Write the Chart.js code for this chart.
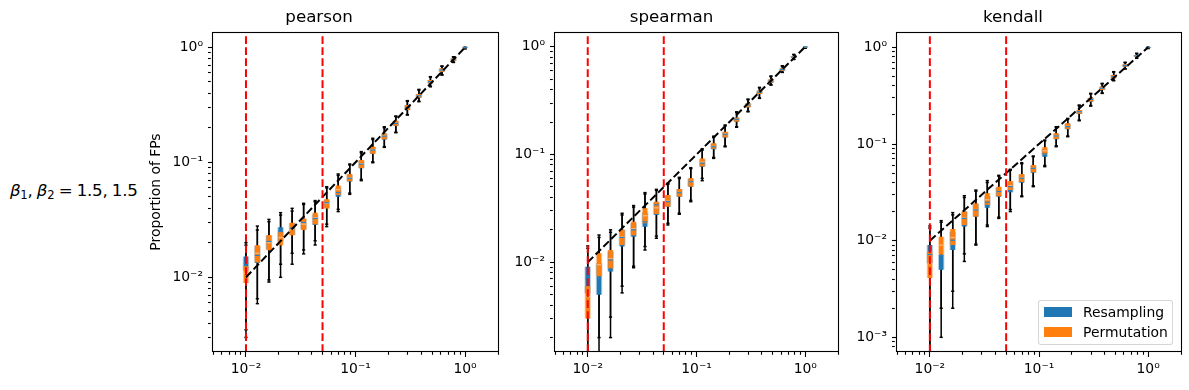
<!DOCTYPE html>
<html>
<head>
<meta charset="utf-8">
<script src="https://cdn.jsdelivr.net/npm/chart.js@4.4.0/dist/chart.umd.min.js"></script>
<style>
  html, body { margin: 0; padding: 0; background: #fff; overflow: hidden; }
  #wrap { position: relative; width: 1189px; height: 390px; overflow: hidden; font-family: 'DejaVu Sans', sans-serif; color: #000; }
  #wrap canvas { position: absolute; top: 0; }
  #rowLabel { position: absolute; left: 10px; top: 180px; font-size: 16.7px; line-height: 20px; white-space: nowrap; letter-spacing: -0.3px; word-spacing: -0.6px; }
  #rowLabel sub { font-size: 11.6px; line-height: 0; vertical-align: -3px; }
  #legend { position: absolute; left: 1038px; top: 300px; width: 133px; height: 43px; border: 1px solid rgba(204,204,204,0.8); border-radius: 3px; background: rgba(255,255,255,0.8); font-size: 13.9px; }
  #legend .item { position: absolute; left: 5px; height: 20px; line-height: 20px; padding-left: 39px; white-space: nowrap; }
  #legend .sw { position: absolute; left: 0; top: 5px; width: 28px; height: 10px; }
</style>
</head>
<body>
<div id="wrap">
  <div id="rowLabel"><i>β</i><sub>1</sub>, <i>β</i><sub>2</sub> = 1.5, 1.5</div>
  <canvas id="pearsonChart" width="431" height="390" style="left:140px"></canvas>
  <canvas id="spearmanChart" width="383" height="390" style="left:505px"></canvas>
  <canvas id="kendallChart" width="388" height="390" style="left:845px"></canvas>
  <div id="legend">
    <div class="item" style="top:1px"><span class="sw" style="background:#1f77b4"></span>Resampling</div>
    <div class="item" style="top:21px"><span class="sw" style="background:#ff7f0e"></span>Permutation</div>
  </div>
</div>
<script>
// 0. データ
// 横軸 (名目上の有意水準)。20点。
const xValues = [0.01, 0.0127, 0.0162, 0.0207, 0.0264, 0.0336, 0.0428, 0.0546, 0.0695, 0.0886,
  0.1129, 0.1438, 0.1833, 0.2336, 0.2976, 0.3793, 0.4833, 0.6158, 0.7848, 1.0];
// 赤い縦線の位置
const refLines = [0.01, 0.05];
// 各点の [下ひげ, 第1四分位, 中央値, 第3四分位, 上ひげ]
const pearsonResampling = [
  [0.0030, 0.0115, 0.0132, 0.0152, 0.0200],
  [0.0059, 0.0133, 0.0155, 0.0185, 0.0258],
  [0.0091, 0.0175, 0.0205, 0.0230, 0.0319],
  [0.0100, 0.0205, 0.0250, 0.0272, 0.0365],
  [0.0130, 0.0235, 0.0268, 0.0295, 0.0398],
  [0.0160, 0.0262, 0.0300, 0.0322, 0.0440],
  [0.0191, 0.0285, 0.0325, 0.0350, 0.0465],
  [0.0276, 0.0400, 0.0445, 0.0470, 0.0614],
  [0.0373, 0.0503, 0.0546, 0.0600, 0.0792],
  [0.0527, 0.0680, 0.0727, 0.0780, 0.0968],
  [0.0693, 0.0890, 0.0963, 0.1030, 0.124],
  [0.0993, 0.119, 0.128, 0.136, 0.162],
  [0.135, 0.158, 0.169, 0.177, 0.204],
  [0.181, 0.207, 0.218, 0.229, 0.253],
  [0.258, 0.285, 0.301, 0.314, 0.344],
  [0.337, 0.365, 0.380, 0.392, 0.431],
  [0.455, 0.486, 0.503, 0.519, 0.556],
  [0.575, 0.614, 0.635, 0.655, 0.688],
  [0.740, 0.766, 0.785, 0.801, 0.829],
  [0.974, 0.987, 0.995, 1.0, 1.0]
];
const pearsonPermutation = [
  [0.0035, 0.0089, 0.0108, 0.0125, 0.0190],
  [0.0065, 0.0135, 0.0162, 0.0190, 0.0279],
  [0.0095, 0.0172, 0.0200, 0.0233, 0.0305],
  [0.0130, 0.0190, 0.0222, 0.0249, 0.0348],
  [0.0162, 0.0232, 0.0262, 0.0298, 0.0377],
  [0.0173, 0.0258, 0.0290, 0.0325, 0.0430],
  [0.0208, 0.0290, 0.0330, 0.0365, 0.0455],
  [0.0290, 0.0397, 0.0440, 0.0477, 0.0600],
  [0.0390, 0.0520, 0.0580, 0.0630, 0.0770],
  [0.0540, 0.0685, 0.0735, 0.0792, 0.0950],
  [0.0710, 0.0895, 0.0970, 0.1050, 0.121],
  [0.101, 0.119, 0.129, 0.137, 0.158],
  [0.137, 0.159, 0.170, 0.178, 0.200],
  [0.183, 0.208, 0.219, 0.230, 0.250],
  [0.260, 0.286, 0.300, 0.315, 0.340],
  [0.340, 0.366, 0.380, 0.393, 0.425],
  [0.458, 0.487, 0.503, 0.520, 0.552],
  [0.578, 0.615, 0.636, 0.656, 0.685],
  [0.742, 0.767, 0.785, 0.802, 0.826],
  [0.974, 0.987, 0.995, 1.0, 1.0]
];
const spearmanResampling = [
  [0.0010, 0.00516, 0.0071, 0.0091, 0.0142],
  [0.0010, 0.0050, 0.0071, 0.0098, 0.0179],
  [0.0020, 0.0082, 0.0105, 0.0126, 0.0200],
  [0.0052, 0.0140, 0.0170, 0.0200, 0.0285],
  [0.0089, 0.0173, 0.0200, 0.0230, 0.0336],
  [0.0130, 0.0214, 0.0237, 0.0290, 0.0443],
  [0.0167, 0.0275, 0.0342, 0.0360, 0.0475],
  [0.0222, 0.0328, 0.0365, 0.0415, 0.0540],
  [0.0279, 0.0406, 0.0442, 0.0475, 0.0614],
  [0.0365, 0.0503, 0.0559, 0.0595, 0.0755],
  [0.0572, 0.0771, 0.0830, 0.0900, 0.113],
  [0.0921, 0.112, 0.118, 0.126, 0.148],
  [0.118, 0.144, 0.154, 0.162, 0.188],
  [0.179, 0.201, 0.212, 0.219, 0.249],
  [0.249, 0.274, 0.288, 0.297, 0.327],
  [0.332, 0.364, 0.378, 0.390, 0.420],
  [0.441, 0.464, 0.481, 0.497, 0.535],
  [0.578, 0.599, 0.615, 0.629, 0.666],
  [0.763, 0.785, 0.802, 0.819, 0.849],
  [0.972, 0.990, 0.995, 1.0, 1.0]
];
const spearmanPermutation = [
  [0.0010, 0.0030, 0.0048, 0.0060, 0.0135],
  [0.0020, 0.0074, 0.0095, 0.0121, 0.0170],
  [0.0031, 0.0088, 0.0108, 0.0130, 0.0190],
  [0.0060, 0.0145, 0.0172, 0.0200, 0.0275],
  [0.0092, 0.0178, 0.0205, 0.0238, 0.0325],
  [0.0140, 0.0230, 0.0270, 0.0317, 0.0430],
  [0.0175, 0.0280, 0.0320, 0.0365, 0.0465],
  [0.0230, 0.0330, 0.0370, 0.0421, 0.0530],
  [0.0285, 0.0408, 0.0445, 0.0479, 0.0600],
  [0.0375, 0.0505, 0.0560, 0.0601, 0.0740],
  [0.0600, 0.0780, 0.0850, 0.0921, 0.110],
  [0.094, 0.113, 0.119, 0.127, 0.145],
  [0.120, 0.145, 0.155, 0.163, 0.185],
  [0.181, 0.202, 0.212, 0.220, 0.245],
  [0.252, 0.275, 0.288, 0.298, 0.323],
  [0.335, 0.365, 0.378, 0.391, 0.416],
  [0.445, 0.465, 0.482, 0.498, 0.530],
  [0.580, 0.600, 0.616, 0.630, 0.662],
  [0.765, 0.786, 0.802, 0.820, 0.845],
  [0.972, 0.990, 0.995, 1.0, 1.0]
];
const kendallResampling = [
  [0.0005, 0.0058, 0.0072, 0.0090, 0.0142],
  [0.0010, 0.0050, 0.0070, 0.0072, 0.0161],
  [0.0020, 0.0080, 0.0101, 0.0124, 0.0195],
  [0.0061, 0.0140, 0.0170, 0.0200, 0.0292],
  [0.0090, 0.0177, 0.0208, 0.0240, 0.0334],
  [0.0140, 0.0219, 0.0250, 0.0290, 0.0418],
  [0.0170, 0.0285, 0.0322, 0.0355, 0.0474],
  [0.0200, 0.0316, 0.0362, 0.0400, 0.0547],
  [0.0285, 0.0398, 0.0442, 0.0480, 0.0641],
  [0.0362, 0.0505, 0.0560, 0.0600, 0.0751],
  [0.0583, 0.0740, 0.0790, 0.0880, 0.110],
  [0.0938, 0.112, 0.121, 0.128, 0.151],
  [0.119, 0.142, 0.151, 0.162, 0.184],
  [0.174, 0.204, 0.216, 0.224, 0.253],
  [0.247, 0.274, 0.289, 0.300, 0.334],
  [0.334, 0.362, 0.377, 0.391, 0.424],
  [0.452, 0.478, 0.497, 0.517, 0.560],
  [0.597, 0.631, 0.649, 0.666, 0.700],
  [0.770, 0.801, 0.817, 0.832, 0.867],
  [0.975, 0.990, 0.995, 1.0, 1.0]
];
const kendallPermutation = [
  [0.0005, 0.0041, 0.0058, 0.0077, 0.0135],
  [0.0020, 0.0072, 0.0090, 0.0110, 0.0155],
  [0.0030, 0.0090, 0.0108, 0.0132, 0.0185],
  [0.0073, 0.0145, 0.0172, 0.0200, 0.0280],
  [0.0092, 0.0178, 0.0210, 0.0243, 0.0325],
  [0.0145, 0.0235, 0.0265, 0.0309, 0.0400],
  [0.0175, 0.0288, 0.0322, 0.0362, 0.0465],
  [0.0210, 0.0335, 0.0370, 0.0414, 0.0535],
  [0.0290, 0.0405, 0.0445, 0.0489, 0.0625],
  [0.0370, 0.0510, 0.0560, 0.0607, 0.0740],
  [0.0600, 0.0780, 0.0850, 0.0924, 0.108],
  [0.096, 0.113, 0.121, 0.129, 0.148],
  [0.121, 0.143, 0.152, 0.164, 0.181],
  [0.177, 0.205, 0.216, 0.225, 0.249],
  [0.250, 0.275, 0.289, 0.301, 0.330],
  [0.337, 0.363, 0.377, 0.392, 0.420],
  [0.455, 0.479, 0.498, 0.518, 0.555],
  [0.600, 0.632, 0.650, 0.667, 0.695],
  [0.773, 0.802, 0.818, 0.833, 0.862],
  [0.975, 0.990, 0.995, 1.0, 1.0]
];
// 軸の範囲
const xRange = [0.005, 2.0];
const pearsonYRange = [0.00224, 1.36];
const spearmanYRange = [0.00147, 1.37];
const kendallYRange = [0.000705, 1.44];

// 1. 共通設定
Chart.defaults.font.family = "'DejaVu Sans', sans-serif";
Chart.defaults.color = '#000';

const BLUE = '#1f77b4';
const ORANGE = '#ff7f0e';

let supMap = {'-': '⁻', '0': '⁰', '1': '¹', '2': '²', '3': '³', '4': '⁴', '5': '⁵', '6': '⁶', '7': '⁷', '8': '⁸', '9': '⁹'};
let powLabel = function(v) {
  let e = Math.round(Math.log10(v));
  return '10' + String(e).split('').map(c => supMap[c]).join('');
};
// 対数軸の目盛り(1〜9 × 10^n)。10^n だけ major。
let logTicks = function(min, max) {
  let ticks = [];
  for (let e = Math.floor(Math.log10(min)); e <= Math.ceil(Math.log10(max)); e++) {
    for (let m = 1; m <= 9; m++) {
      let v = m * Math.pow(10, e);
      if (v >= min * 0.9999 && v <= max * 1.0001) ticks.push({value: v, major: m === 1});
    }
  }
  return ticks;
};

// 外枠を描くプラグイン
let framePlugin = {
  id: 'frame',
  afterDatasetsDraw(chart) {
    let a = chart.chartArea;
    let c = chart.ctx;
    c.save();
    c.strokeStyle = '#000';
    c.lineWidth = 1.1;
    c.strokeRect(Math.round(a.left) - 0.5, Math.round(a.top) + 0.5, Math.round(a.right - a.left) + 1, Math.round(a.bottom - a.top) - 1);
    c.restore();
  }
};

// 2. データセットを作る関数
// 縦の線分(ひげ、箱)。null で区切る。
let segPoints = function(stats, a, b) {
  let pts = [];
  for (let i = 0; i < xValues.length; i++) {
    pts.push({x: xValues[i], y: stats[i][a]});
    pts.push({x: xValues[i], y: stats[i][b]});
    pts.push({x: xValues[i], y: null});
  }
  return pts;
};
let statPoints = function(stats, idxs) {
  let pts = [];
  for (let i = 0; i < xValues.length; i++) {
    for (let j = 0; j < idxs.length; j++) pts.push({x: xValues[i], y: stats[i][idxs[j]]});
  }
  return pts;
};
let lineSet = function(data, color, width, order, dash) {
  return {
    type: 'line', data: data, borderColor: color, backgroundColor: color,
    borderWidth: width, borderDash: dash || [], borderCapStyle: 'butt',
    pointRadius: 0, pointHoverRadius: 0, fill: false, tension: 0,
    spanGaps: false, order: order
  };
};
let pointSet = function(data, color, radius, width, order) {
  return {
    type: 'line', data: data, showLine: false, pointStyle: 'line',
    pointRadius: radius, pointHoverRadius: radius, pointBorderColor: color,
    pointBackgroundColor: color, pointBorderWidth: width, order: order
  };
};

// 3. パネルを作る関数
let makePanel = function(id, title, res, perm, yRange, yWidth, yTitle) {
  let dash = [7.7, 3.3];
  let datasets = [];
  for (let i = 0; i < refLines.length; i++) {
    datasets.push(lineSet([{x: refLines[i], y: yRange[0]}, {x: refLines[i], y: yRange[1]}], '#ff0000', 2, 0, dash));
  }
  datasets.push(lineSet([{x: 0.01, y: 0.01}, {x: 1, y: 1}], '#000', 2, 1, dash));
  datasets.push(pointSet(statPoints(res, [2]), '#2a82c4', 2.3, 1.2, 2));
  datasets.push(pointSet(statPoints(perm, [2]), '#f6b880', 2.3, 1.2, 3));
  datasets.push(lineSet(segPoints(perm, 1, 3), ORANGE, 4.5, 4));
  datasets.push(lineSet(segPoints(perm, 1, 3), 'rgba(255,127,14,0.3)', 6.5, 5));
  datasets.push(lineSet(segPoints(res, 1, 3), BLUE, 4.5, 6));
  datasets.push(lineSet(segPoints(res, 1, 3), 'rgba(31,119,180,0.3)', 6.5, 7));
  datasets.push(pointSet(statPoints(res, [0, 4]), '#000', 1.6, 1.5, 8));
  datasets.push(pointSet(statPoints(perm, [0, 4]), '#000', 1.6, 1.5, 8));
  datasets.push(lineSet(segPoints(res, 0, 4), '#000', 1.5, 9));
  datasets.push(lineSet(segPoints(perm, 0, 4), '#000', 1.5, 9));

  let tickGrid = {
    display: true, drawOnChartArea: false, drawTicks: true, tickLength: 5,
    tickColor: '#000', tickWidth: 1.1,
    tickBorderDash: c => (c.tick && c.tick.major) ? [] : [2.8, 40]
  };
  let tickFont = {size: 13.9};
  let labelCb = function(value, index, ticks) {
    return ticks[index].major ? powLabel(value) : '';
  };

  return new Chart(document.getElementById(id), {
    data: {datasets: datasets},
    plugins: [framePlugin],
    options: {
      responsive: false, animation: false, events: [],
      layout: {padding: {left: 0, right: yWidth, top: 0, bottom: 0}},
      plugins: {
        legend: {display: false},
        tooltip: {enabled: false},
        title: {display: true, text: title, color: '#000', font: {size: 16.7, weight: 'normal'}, padding: {top: 8, bottom: 4}}
      },
      scales: {
        x: {
          type: 'logarithmic', min: xRange[0], max: xRange[1],
          afterBuildTicks: s => { s.ticks = logTicks(xRange[0], xRange[1]); },
          afterFit: s => { s.height = 38; },
          border: {display: false},
          grid: tickGrid,
          ticks: {autoSkip: false, maxRotation: 0, padding: 4, font: tickFont, callback: labelCb}
        },
        y: {
          type: 'logarithmic', min: yRange[0], max: yRange[1],
          afterBuildTicks: s => { s.ticks = logTicks(yRange[0], yRange[1]); },
          afterFit: s => { s.width = yWidth; },
          border: {display: false},
          grid: tickGrid,
          title: {display: !!yTitle, text: yTitle || '', color: '#000', font: {size: 13.9}, padding: {top: 7.7, bottom: 0}},
          ticks: {autoSkip: false, padding: 5, font: tickFont, callback: labelCb}
        }
      }
    }
  });
};

// 4. 3つのパネル
makePanel('pearsonChart', 'pearson', pearsonResampling, pearsonPermutation, pearsonYRange, 73, 'Proportion of FPs');
makePanel('spearmanChart', 'spearman', spearmanResampling, spearmanPermutation, spearmanYRange, 50);
makePanel('kendallChart', 'kendall', kendallResampling, kendallPermutation, kendallYRange, 52);
</script>
</body>
</html>
